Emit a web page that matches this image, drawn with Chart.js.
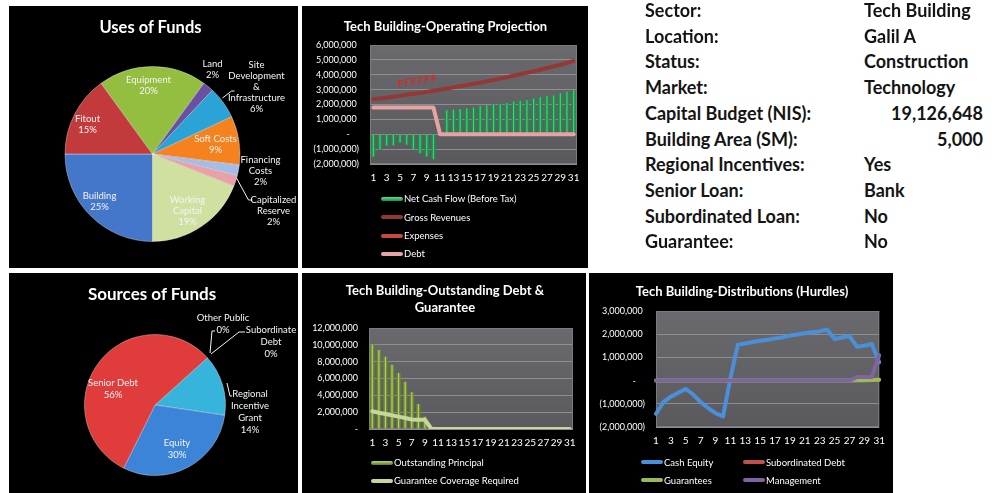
<!DOCTYPE html>
<html><head><meta charset="utf-8">
<script src="https://cdn.jsdelivr.net/npm/chart.js@4"></script>
<style>
body{margin:0;background:#fff;width:1000px;height:493px;overflow:hidden;position:relative;font-family:Lato,sans-serif;}
.panel{position:absolute;background:#000;overflow:hidden;}
.panel canvas{position:absolute;left:0;top:0;}
.title{position:absolute;color:#fff;font-weight:bold;text-align:center;white-space:nowrap;transform:translate(-50%,-50%);line-height:17px;}
.leg{position:absolute;color:#fff;font-size:9.5px;white-space:nowrap;line-height:12px;transform:translateY(-50%);}
.leg i{display:inline-block;width:22px;height:4px;border-radius:2px;vertical-align:middle;margin-right:1px;position:relative;top:-1px;}
.info{position:absolute;font-weight:bold;font-size:18px;color:#141414;white-space:nowrap;transform:translateY(-50%);line-height:22px;}
</style></head><body>

<div class="panel" id="p1" style="left:9px;top:6px;width:289px;height:262px;">
  <canvas id="c1" width="289" height="262"></canvas>
  <div class="title" style="left:141.5px;top:21px;font-size:16.5px;">Uses of Funds</div>
</div>
<div class="panel" id="p2" style="left:302px;top:6px;width:286px;height:262px;">
  <canvas id="c2" width="286" height="262"></canvas>
  <div class="title" style="left:143.5px;top:20px;font-size:13px;">Tech Building-Operating Projection</div>
</div>
<div class="panel" id="p4" style="left:9px;top:273px;width:289px;height:220px;">
  <canvas id="c4" width="289" height="220"></canvas>
  <div class="title" style="left:143px;top:20px;font-size:17px;">Sources of Funds</div>
</div>
<div class="panel" id="p5" style="left:302px;top:273px;width:284px;height:220px;">
  <canvas id="c5" width="284" height="220"></canvas>
  <div class="title" style="left:143px;top:26px;font-size:13px;">Tech Building-Outstanding Debt &amp;<br>Guarantee</div>
</div>
<div class="panel" id="p6" style="left:589px;top:273px;width:304px;height:220px;">
  <canvas id="c6" width="304" height="220"></canvas>
  <div class="title" style="left:153px;top:18px;font-size:13px;">Tech Building-Distributions (Hurdles)</div>
</div>
<div id="info"></div>

<script>
// ---------------- DATA ----------------
const usesCategories = ["Building","Fitout","Equipment","Land","Site\nDevelopment\n&\nInfrastructure","Soft Costs","Financing\nCosts","Capitalized\nReserve","Working\nCapital"];
const usesValues = [25,15,20,2,6,9,2,2,19];

const sourcesCategories = ["Regional\nIncentive\nGrant","Equity","Senior Debt","Other Public","Subordinate\nDebt"];
const sourcesValues = [14,30,56,0,0];

const years = [1,2,3,4,5,6,7,8,9,10,11,12,13,14,15,16,17,18,19,20,21,22,23,24,25,26,27,28,29,30,31];

const netCashFlow = [-1500000,-1050000,-780000,-750000,-560000,-700000,-1000000,-1280000,-1500000,-1680000,
  0,1620000,1660000,1700000,1730000,1790000,1900000,1950000,2000000,2050000,
  2100000,2200000,2250000,2300000,2400000,2500000,2550000,2600000,2750000,2850000,2950000];
const grossRevenues = [2350000,2400000,2460000,2520000,2580000,2650000,2720000,2780000,2850000,2920000,
  3000000,3070000,3150000,3230000,3310000,3390000,3470000,3560000,3650000,3740000,
  3830000,3930000,4030000,4130000,4230000,4340000,4450000,4560000,4670000,4790000,4930000];
const expenses = [null,null,null,null,3420000,3480000,3550000,3620000,3690000,3760000,
  null,null,null,null,null,null,null,null,null,null,null,null,null,null,null,null,null,null,null,null,null];
const debtService = [1800000,1800000,1800000,1800000,1800000,1800000,1800000,1800000,1800000,1800000,
  0,0,0,0,0,0,0,0,0,0,0,0,0,0,0,0,0,0,0,0,0];

const outstandingPrincipal = [10000000,9400000,8600000,7640000,6650000,5600000,4360000,2970000,1470000,
  0,0,0,0,0,0,0,0,0,0,0,0,0,0,0,0,0,0,0,0,0,0];
const guaranteeCoverage = [2100000,1930000,1780000,1620000,1470000,1300000,1120000,1100000,1100000,
  0,0,0,0,0,0,0,0,0,0,0,0,0,0,0,0,0,0,0,0,0,0];

const cashEquity = [-1430000,-930000,-690000,-520000,-360000,-600000,-930000,-1180000,-1400000,-1550000,
  100000,1550000,1600000,1660000,1720000,1760000,1820000,1860000,1940000,1990000,
  2040000,2080000,2120000,2200000,1790000,1860000,1920000,1460000,1500000,1580000,790000];
const subordinatedDebt = [0,0,0,0,0,0,0,0,0,0,0,0,0,0,0,0,0,0,0,0,0,0,0,0,0,0,0,0,0,0,0];
const guarantees = [0,0,0,0,0,0,0,0,0,0,0,0,0,0,0,0,0,0,0,0,0,0,0,0,0,0,0,10000,20000,30000,40000];
const management = [0,0,0,0,0,0,0,0,0,0,0,0,0,0,0,0,0,0,0,0,0,0,0,0,0,0,0,150000,150000,150000,1100000];

const infoLabels = ["Sector:","Location:","Status:","Market:","Capital Budget (NIS):","Building Area (SM):","Regional Incentives:","Senior Loan:","Subordinated Loan:","Guarantee:"];
const infoValues = ["Tech Building","Galil A","Construction","Technology","19,126,648","5,000","Yes","Bank","No","No"];

// ---------------- HELPERS ----------------
Chart.defaults.font.family = 'Lato, sans-serif';
Chart.defaults.color = '#fff';

const NB = '\u00a0';
function acct(v){ // accounting style labels
  if (v === 0) return '-' + NB+NB+NB+NB;
  if (v < 0) return '(' + Math.abs(v).toLocaleString('en-US') + ')';
  return v.toLocaleString('en-US') + NB;
}
function plain(v){ return v === 0 ? '-' : v.toLocaleString('en-US'); }

const plotBg = {
  id:'plotBg',
  beforeDatasetsDraw(chart){
    const a = chart.chartArea, ctx = chart.ctx;
    ctx.save();
    ctx.strokeStyle = '#7c7c80'; ctx.lineWidth = 1;
    ctx.strokeRect(a.left+0.5, a.top+0.5, a.right-a.left-1, a.bottom-a.top-1);
    ctx.restore();
  },
  beforeDraw(chart){
    const a = chart.chartArea, ctx = chart.ctx;
    ctx.save();
    const g = ctx.createLinearGradient(0, a.top, 0, a.bottom);
    g.addColorStop(0, '#6a6a6e'); g.addColorStop(1, '#5a5a5e');
    ctx.fillStyle = g;
    ctx.fillRect(a.left, a.top, a.right-a.left, a.bottom-a.top);
    ctx.restore();
  }
};
const barStripe = {
  id:'barStripe',
  afterDatasetDraw(chart, args, opts){
    const meta = args.meta;
    if (meta.type !== 'bar') return;
    const ctx = chart.ctx; ctx.save();
    ctx.strokeStyle = opts.color; ctx.lineWidth = 1.2;
    meta.data.forEach(b => {
      const p = b.getProps(['x','y','base'], true);
      if (Math.abs(p.y - p.base) < 0.5) return;
      ctx.beginPath(); ctx.moveTo(p.x, p.y); ctx.lineTo(p.x, p.base); ctx.stroke();
    });
    ctx.restore();
  }
};
const pieLabels = {
  id:'pieLabels',
  afterDatasetsDraw(chart, args, opts){
    const meta = chart.getDatasetMeta(0);
    const arc = meta.data[0];
    const cx = arc.x, cy = arc.y;
    const ds = chart.data.datasets[0];
    const total = ds.data.reduce((a,b)=>a+b,0);
    const ctx = chart.ctx; ctx.save();
    ctx.font = opts.font; ctx.fillStyle = opts.color; ctx.strokeStyle = opts.color;
    ctx.textAlign = 'center'; ctx.textBaseline = 'middle'; ctx.lineWidth = 1;
    opts.items.forEach((it, i) => {
      const lines = opts.names[i].split('\n').concat([Math.round(ds.data[i]/total*100) + '%']);
      const lh = opts.lineHeight;
      const y0 = cy + it.dy - (lines.length-1)*lh/2;
      lines.forEach((t,k) => ctx.fillText(t, cx + it.dx, y0 + k*lh));
      if (it.leader){
        ctx.beginPath();
        it.leader.forEach((p,k) => k ? ctx.lineTo(cx+p[0], cy+p[1]) : ctx.moveTo(cx+p[0], cy+p[1]));
        ctx.stroke();
      }
    });
    ctx.restore();
  }
};
function xAxis(){
  return {
    grid:{display:false, drawTicks:false}, border:{display:false},
    ticks:{color:'#fff', font:{size:10}, autoSkip:false, maxRotation:0, minRotation:0, padding:8,
      callback:(v,i) => i % 2 === 0 ? String(years[i]) : ''},
    afterFit:(s)=>{ s.height = 24; }
  };
}
function yAxis(min, max, step, fmt, w){
  return {
    min:min, max:max,
    grid:{color:'#8d8d92', drawTicks:false}, border:{display:false},
    ticks:{stepSize:step, color:'#fff', font:{size:9}, padding:11, callback:fmt},
    afterFit:(s)=>{ s.width = w; }
  };
}
function buildLegend(panelId, chart, items){
  const p = document.getElementById(panelId);
  items.forEach(it => {
    const ds = chart.data.datasets[it.i];
    const d = document.createElement('div');
    d.className = 'leg';
    d.style.left = it.x + 'px'; d.style.top = it.y + 'px';
    const sw = document.createElement('i');
    sw.style.background = it.color || ds.borderColor;
    d.appendChild(sw);
    d.appendChild(document.createTextNode(ds.label));
    p.appendChild(d);
  });
}

// ---------------- USES OF FUNDS ----------------
const usesColors = ['#4477c9','#c23a3b','#93be40','#6a50a2','#2ba3d7','#f5821f','#a5bde6','#e9a0a8','#cfe0a0'];
new Chart(document.getElementById('c1'), {
  type:'pie',
  data:{labels:usesCategories.map(s=>s.replace(/\n/g,' ')), datasets:[{data:usesValues, backgroundColor:usesColors, borderColor:'rgba(255,255,255,0.35)', borderWidth:1}]},
  options:{responsive:false, animation:false, rotation:180,
    layout:{padding:{left:55, right:57, top:60, bottom:26}},
    plugins:{legend:{display:false}, tooltip:{enabled:false},
      pieLabels:{font:'9.5px Lato', color:'#f4f4f4', lineHeight:11, names:usesCategories,
        items:[
          {dx:-53, dy:47.5},
          {dx:-65, dy:-30},
          {dx:-4, dy:-69},
          {dx:60, dy:-84.5},
          {dx:104, dy:-67, leader:[[70,-56],[79,-63],[82,-63]]},
          {dx:63, dy:-9.5},
          {dx:108, dy:17},
          {dx:121, dy:56.5, leader:[[84,24],[96,46],[100,46]]},
          {dx:35, dy:57}
        ]}}},
  plugins:[pieLabels]
});

// ---------------- SOURCES OF FUNDS ----------------
const sourcesColors = ['#36b4dc','#3b84d7','#e03c3c','#8064a2','#9bbb59'];
new Chart(document.getElementById('c4'), {
  type:'pie',
  data:{labels:sourcesCategories.map(s=>s.replace(/\n/g,' ')), datasets:[{data:sourcesValues, backgroundColor:sourcesColors, borderColor:'rgba(255,255,255,0.35)', borderWidth:1}]},
  options:{responsive:false, animation:false, rotation:48,
    layout:{padding:{left:75, right:72, top:61, bottom:17}},
    plugins:{legend:{display:false}, tooltip:{enabled:false},
      pieLabels:{font:'9.5px Lato', color:'#f4f4f4', lineHeight:12, names:sourcesCategories,
        items:[
          {dx:95, dy:7, leader:[[72,-22],[75,-9],[77,-9]]},
          {dx:22, dy:43.5},
          {dx:-42, dy:-16},
          {dx:68, dy:-81, leader:[[55,-52],[57,-74],[60,-74]]},
          {dx:116, dy:-63, leader:[[56,-51],[84,-73],[90,-73]]}
        ]}}},
  plugins:[pieLabels]
});

// ---------------- OPERATING PROJECTION ----------------
const fMark = document.createElement('canvas');
fMark.width = 6; fMark.height = 9;
(function(){ const c = fMark.getContext('2d'); c.fillStyle = '#ee1c1c'; c.font = 'bold 9px Lato'; c.textAlign = 'center'; c.textBaseline = 'middle'; c.fillText('F', 3, 5); })();

const op = new Chart(document.getElementById('c2'), {
  data:{labels:years, datasets:[
    {type:'bar', label:'Net Cash Flow (Before Tax)', data:netCashFlow, backgroundColor:'#14924a', barPercentage:0.7, categoryPercentage:0.9, order:4},
    {type:'line', label:'Gross Revenues', data:grossRevenues, borderColor:'#953735', borderWidth:4, pointRadius:0, borderCapStyle:'round', borderJoinStyle:'round', order:3},
    {type:'line', label:'Expenses', data:expenses, borderColor:'#c84646', showLine:false, pointStyle:fMark, pointRadius:4, order:2},
    {type:'line', label:'Debt', data:debtService, borderColor:'#e6a3a3', borderWidth:4, pointRadius:0, borderCapStyle:'round', borderJoinStyle:'round', order:1}
  ]},
  options:{responsive:false, animation:false,
    layout:{padding:{left:0, right:11, top:39, bottom:80}},
    scales:{x:xAxis(), y:yAxis(-2000000, 6000000, 1000000, acct, 68)},
    plugins:{legend:{display:false}, tooltip:{enabled:false}, barStripe:{color:'rgba(110,225,140,0.7)'}}},
  plugins:[plotBg, barStripe]
});
buildLegend('p2', op, [
  {i:0, x:79, y:193, color:'linear-gradient(#5fe08a,#14924a)'},
  {i:1, x:79, y:211.5},
  {i:2, x:79, y:230},
  {i:3, x:79, y:248}
]);

// ---------------- OUTSTANDING DEBT ----------------
const od = new Chart(document.getElementById('c5'), {
  data:{labels:years, datasets:[
    {type:'bar', label:'Outstanding Principal', data:outstandingPrincipal, backgroundColor:'#6c8a26', barPercentage:0.7, categoryPercentage:0.9, order:2},
    {type:'line', label:'Guarantee Coverage Required', data:guaranteeCoverage, borderColor:'#c4d89b', borderWidth:4, pointRadius:0, borderCapStyle:'round', borderJoinStyle:'round', order:1}
  ]},
  options:{responsive:false, animation:false,
    layout:{padding:{left:0, right:13, top:55, bottom:40}},
    scales:{x:xAxis(), y:yAxis(0, 12000000, 2000000, plain, 67)},
    plugins:{legend:{display:false}, tooltip:{enabled:false}, barStripe:{color:'rgba(200,230,130,0.75)'}}},
  plugins:[plotBg, barStripe]
});
buildLegend('p5', od, [
  {i:0, x:69, y:190.3, color:'linear-gradient(#b8d870,#5d7a1e)'},
  {i:1, x:69, y:208}
]);

// ---------------- DISTRIBUTIONS ----------------
const lineDs = (label, data, color, order, w) => ({type:'line', label, data, borderColor:color, borderWidth:w, pointRadius:0, borderCapStyle:'round', borderJoinStyle:'round', order});
const di = new Chart(document.getElementById('c6'), {
  data:{labels:years, datasets:[
    lineDs('Cash Equity', cashEquity, '#4a8fd9', 4, 4),
    lineDs('Subordinated Debt', subordinatedDebt, '#c0504d', 3, 3),
    lineDs('Guarantees', guarantees, '#9bbb59', 2, 4),
    lineDs('Management', management, '#8064a2', 1, 4)
  ]},
  options:{responsive:false, animation:false,
    layout:{padding:{left:0, right:12, top:38, bottom:42}},
    scales:{x:xAxis(), y:yAxis(-2000000, 3000000, 1000000, acct, 67)},
    plugins:{legend:{display:false}, tooltip:{enabled:false}}},
  plugins:[plotBg]
});
buildLegend('p6', di, [
  {i:0, x:52, y:189.7},
  {i:1, x:154, y:189.7},
  {i:2, x:52, y:207.7},
  {i:3, x:154, y:207.7}
]);

// ---------------- INFO TABLE ----------------
(function(){
  const box = document.getElementById('info');
  infoLabels.forEach((t,i) => {
    const y = 10 + i*25.7;
    const a = document.createElement('div');
    a.className = 'info'; a.style.left = '645px'; a.style.top = y + 'px'; a.textContent = t;
    box.appendChild(a);
    const b = document.createElement('div');
    b.className = 'info'; b.style.top = y + 'px'; b.textContent = infoValues[i];
    if (/^[\d,]+$/.test(infoValues[i])) { b.style.right = '17px'; } else { b.style.left = '864px'; }
    box.appendChild(b);
  });
})();
</script>
</body></html>
